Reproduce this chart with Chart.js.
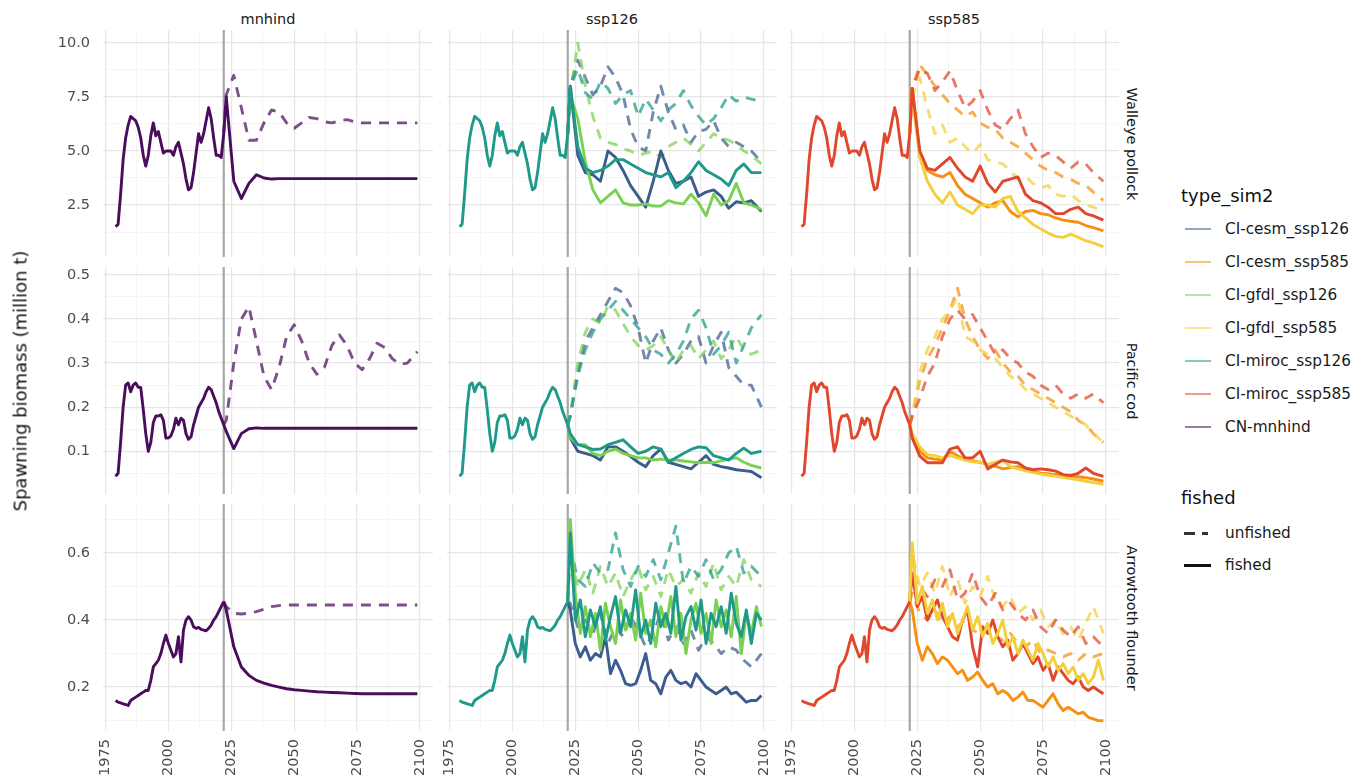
<!DOCTYPE html>
<html>
<head>
<meta charset="utf-8">
<script src="https://cdn.jsdelivr.net/npm/chart.js@4.4.1/dist/chart.umd.min.js"></script>
<style>
  body { margin: 0; background: #fff; width: 1358px; height: 781px; overflow: hidden; position: relative; font-family: "DejaVu Sans", sans-serif; }
  canvas { position: absolute; }
  .txt { position: absolute; white-space: nowrap; }
  .strip { font-size: 14.5px; color: #1a1a1a; transform: translate(-50%, -50%); }
  .strip-r { font-size: 14.5px; color: #1a1a1a; transform: translate(-50%, -50%) rotate(90deg); }
  .ytitle { font-size: 18px; color: #111; transform: translate(-50%, -50%) rotate(-90deg); }
  .lg-title { font-size: 18px; color: #111; transform: translateY(-50%); }
  .lg-text { font-size: 15.3px; color: #1a1a1a; transform: translateY(-50%); }
  .key { position: absolute; }
</style>
</head>
<body>
<script>
// years
const histYears = [1979, 1980, 1981, 1982, 1983, 1984, 1985, 1986, 1987, 1988,
  1989, 1990, 1991, 1992, 1993, 1994, 1995, 1996, 1997, 1998,
  1999, 2000, 2001, 2002, 2003, 2004, 2005, 2006, 2007, 2008,
  2009, 2010, 2011, 2012, 2013, 2014, 2015, 2016, 2017, 2018,
  2019, 2020, 2021, 2022];
const projYears = [2022, 2023, 2026, 2029, 2032, 2035, 2038, 2041, 2044,
  2047, 2050, 2053, 2056, 2059, 2062, 2065, 2068, 2071,
  2074, 2077, 2080, 2083, 2086, 2089, 2092, 2095, 2099];
const arrowYears = [2022, 2023, 2025, 2027, 2029, 2031, 2033, 2035, 2037, 2039,
  2041, 2043, 2045, 2047, 2049, 2051, 2053, 2055, 2057, 2059,
  2061, 2063, 2065, 2067, 2069, 2071, 2073, 2075, 2077, 2079,
  2081, 2083, 2085, 2087, 2089, 2091, 2093, 2095, 2097, 2099];

// hindcast (shared by all scenarios)
const pollockHist = [1.5, 1.6, 3.0, 4.6, 5.6, 6.2, 6.6, 6.5, 6.4, 6.1,
  5.6, 4.8, 4.3, 4.8, 5.7, 6.3, 5.7, 5.9, 5.4, 4.9,
  5.0, 5.0, 5.0, 4.8, 5.2, 5.4, 4.9, 4.4, 3.7, 3.2,
  3.3, 4.0, 4.9, 5.8, 5.4, 5.8, 6.4, 7.0, 6.5, 5.6,
  4.8, 4.8, 4.7, 5.8];
const codHist = [0.043, 0.05, 0.12, 0.2, 0.25, 0.255, 0.235, 0.25, 0.255, 0.245,
  0.245, 0.195, 0.14, 0.1, 0.12, 0.165, 0.18, 0.18, 0.183, 0.17,
  0.13, 0.13, 0.135, 0.15, 0.175, 0.16, 0.175, 0.17, 0.14, 0.127,
  0.133, 0.16, 0.18, 0.2, 0.21, 0.22, 0.235, 0.245, 0.24, 0.225,
  0.21, 0.19, 0.175, 0.16];
const arrowHist = [0.16, 0.155, 0.153, 0.15, 0.148, 0.145, 0.16, 0.165, 0.17, 0.175,
  0.18, 0.185, 0.19, 0.19, 0.22, 0.26, 0.27, 0.28, 0.3, 0.33,
  0.355, 0.33, 0.31, 0.29, 0.3, 0.35, 0.275, 0.37, 0.4, 0.41,
  0.4, 0.38, 0.375, 0.378, 0.372, 0.37, 0.368, 0.375, 0.385, 0.4,
  0.41, 0.425, 0.44, 0.455];

// walleye pollock projections (projYears)
const pollMnF = [5.8, 7.5, 3.6, 2.8, 3.5, 3.9, 3.75, 3.7, 3.72,
  3.72, 3.72, 3.72, 3.72, 3.72, 3.72, 3.72, 3.72, 3.72,
  3.72, 3.72, 3.72, 3.72, 3.72, 3.72, 3.72, 3.72, 3.72];
const pollMnU = [5.8, 7.6, 8.5, 7.0, 5.5, 5.5, 6.3, 6.9, 6.8,
  6.3, 6.05, 6.3, 6.55, 6.5, 6.35, 6.3, 6.4, 6.45,
  6.35, 6.3, 6.3, 6.3, 6.3, 6.3, 6.3, 6.3, 6.3];
const pollCesm126F = [5.8, 8.0, 4.8, 4.0, 3.9, 3.6, 5.0, 4.7, 4.1,
  3.4, 2.9, 2.4, 3.6, 5.0, 4.1, 3.5, 3.6, 3.8,
  2.9, 3.1, 3.2, 2.9, 2.35, 2.65, 2.6, 2.7, 2.2];
const pollGfdl126F = [5.8, 7.6, 6.5, 4.5, 3.2, 2.6, 2.9, 3.2, 2.6,
  2.5, 2.5, 2.55, 2.45, 2.45, 2.7, 2.6, 2.55, 3.0,
  2.6, 2.0, 3.0, 2.5, 2.7, 3.5, 2.6, 2.5, 2.3];
const pollMiroc126F = [5.8, 8.0, 5.2, 4.2, 4.0, 4.1, 4.3, 4.6, 4.6,
  4.4, 4.2, 4.0, 3.9, 3.8, 4.0, 3.3, 3.6, 4.0,
  4.5, 4.1, 3.9, 3.7, 3.4, 4.1, 4.4, 4.0, 4.0];
const pollCesm126U = [5.8, 8.0, 9.2, 8.4, 7.6, 8.0, 8.9, 8.4, 7.6,
  6.0, 5.2, 5.0, 6.8, 8.0, 6.8, 6.0, 6.2, 5.4,
  5.9, 6.0, 6.4, 5.6, 5.2, 5.4, 5.2, 5.0, 4.5];
const pollGfdl126U = [5.8, 7.6, 10.0, 8.0, 6.6, 5.6, 5.4, 5.3, 5.1,
  5.0, 4.8, 4.9, 5.0, 4.7, 5.2, 5.4, 5.6, 5.3,
  5.0, 5.4, 5.8, 5.6, 5.5, 5.3, 5.0, 4.8, 4.4];
const pollMiroc126U = [5.8, 8.0, 8.8, 7.7, 7.4, 8.2, 7.9, 7.2, 7.6,
  7.8, 6.6, 7.4, 6.9, 6.4, 6.9, 7.2, 7.8, 7.1,
  6.6, 6.2, 6.5, 7.0, 7.6, 7.3, 7.5, 7.4, 7.3];
const pollCesm585F = [5.8, 7.9, 4.8, 4.1, 3.9, 3.8, 4.0, 3.4, 3.0,
  2.8, 2.6, 2.4, 2.6, 2.7, 2.2, 1.95, 2.2, 2.25,
  2.1, 2.05, 1.9, 1.8, 1.75, 1.7, 1.55, 1.45, 1.3];
const pollGfdl585F = [5.8, 7.5, 4.7, 3.6, 3.0, 2.6, 3.1, 2.5, 2.3,
  2.1, 2.5, 2.5, 2.4, 2.8, 2.9, 2.2, 1.9, 1.6,
  1.4, 1.2, 1.05, 1.0, 1.15, 1.0, 0.85, 0.75, 0.56];
const pollMiroc585F = [5.8, 7.9, 5.0, 4.2, 4.1, 4.4, 4.7, 4.2, 3.8,
  3.6, 4.3, 3.5, 3.1, 3.6, 3.7, 3.8, 3.0, 2.7,
  2.6, 2.4, 2.1, 2.1, 2.3, 2.4, 2.1, 2.0, 1.8];
const pollCesm585U = [5.8, 7.9, 9.0, 8.5, 8.0, 7.6, 7.2, 6.9, 6.6,
  6.8, 6.3, 6.1, 6.0, 5.6, 5.4, 5.2, 4.9, 4.6,
  4.3, 4.1, 4.0, 3.8, 3.7, 3.5, 3.4, 3.1, 2.7];
const pollGfdl585U = [5.8, 7.5, 8.4, 7.0, 5.8, 6.2, 5.4, 5.6, 5.2,
  4.9, 5.3, 4.6, 4.5, 4.4, 4.1, 3.7, 3.8, 3.5,
  3.3, 3.4, 3.0, 2.9, 3.0, 2.7, 2.5, 2.4, 2.2];
const pollMiroc585U = [5.8, 7.9, 8.8, 8.6, 7.8, 8.2, 8.7, 7.8, 7.0,
  7.3, 7.8, 6.9, 6.2, 6.0, 6.5, 6.9, 5.8, 5.2,
  4.7, 4.9, 4.8, 4.5, 4.2, 4.5, 4.4, 4.0, 3.6];

// pacific cod projections (projYears)
const codMnF = [0.16, 0.145, 0.106, 0.14, 0.151, 0.153, 0.152, 0.152, 0.152,
  0.152, 0.152, 0.152, 0.152, 0.152, 0.152, 0.152, 0.152, 0.152,
  0.152, 0.152, 0.152, 0.152, 0.152, 0.152, 0.152, 0.152, 0.152];
const codMnU = [0.16, 0.17, 0.3, 0.4, 0.428, 0.35, 0.27, 0.24, 0.29,
  0.36, 0.387, 0.35, 0.3, 0.275, 0.29, 0.34, 0.364, 0.34,
  0.3, 0.285, 0.31, 0.345, 0.335, 0.31, 0.297, 0.3, 0.326];
const codCesm126F = [0.16, 0.13, 0.1, 0.095, 0.09, 0.08, 0.11, 0.11, 0.1,
  0.088, 0.075, 0.065, 0.09, 0.105, 0.075, 0.07, 0.065, 0.06,
  0.075, 0.09, 0.07, 0.065, 0.062, 0.058, 0.056, 0.054, 0.04];
const codGfdl126F = [0.16, 0.13, 0.115, 0.115, 0.095, 0.09, 0.1, 0.105, 0.095,
  0.09, 0.085, 0.085, 0.08, 0.082, 0.08, 0.08, 0.078, 0.076,
  0.074, 0.075, 0.074, 0.078, 0.082, 0.085, 0.075, 0.068, 0.062];
const codMiroc126F = [0.16, 0.14, 0.115, 0.11, 0.104, 0.105, 0.115, 0.12, 0.126,
  0.11, 0.095, 0.1, 0.11, 0.105, 0.075, 0.085, 0.095, 0.104,
  0.11, 0.108, 0.09, 0.085, 0.08, 0.095, 0.107, 0.095, 0.1];
const codCesm126U = [0.16, 0.18, 0.28, 0.35, 0.38, 0.41, 0.44, 0.47, 0.46,
  0.43, 0.38, 0.3, 0.35, 0.38, 0.33, 0.3, 0.32, 0.35,
  0.36, 0.3, 0.34, 0.37, 0.29, 0.27, 0.25, 0.25, 0.2];
const codGfdl126U = [0.16, 0.18, 0.3, 0.37, 0.4, 0.39, 0.43, 0.42, 0.39,
  0.36, 0.34, 0.33, 0.34, 0.36, 0.33, 0.3, 0.33, 0.34,
  0.31, 0.33, 0.35, 0.31, 0.33, 0.36, 0.33, 0.32, 0.33];
const codMiroc126U = [0.16, 0.18, 0.27, 0.33, 0.37, 0.4, 0.42, 0.44, 0.42,
  0.4, 0.38, 0.36, 0.33, 0.32, 0.3, 0.32, 0.35, 0.4,
  0.42, 0.38, 0.32, 0.34, 0.37, 0.3, 0.34, 0.38, 0.41];
const codCesm585F = [0.16, 0.13, 0.1, 0.085, 0.082, 0.08, 0.1, 0.09, 0.08,
  0.078, 0.075, 0.07, 0.066, 0.06, 0.063, 0.065, 0.056, 0.054,
  0.05, 0.049, 0.047, 0.045, 0.043, 0.042, 0.04, 0.037, 0.032];
const codGfdl585F = [0.16, 0.14, 0.11, 0.092, 0.09, 0.085, 0.09, 0.085, 0.08,
  0.076, 0.075, 0.07, 0.075, 0.08, 0.065, 0.06, 0.056, 0.052,
  0.048, 0.046, 0.043, 0.041, 0.038, 0.035, 0.032, 0.029, 0.025];
const codMiroc585F = [0.16, 0.13, 0.089, 0.074, 0.074, 0.074, 0.105, 0.11, 0.085,
  0.085, 0.1, 0.06, 0.07, 0.08, 0.076, 0.074, 0.062, 0.058,
  0.06, 0.058, 0.055, 0.047, 0.045, 0.05, 0.062, 0.05, 0.043];
const codCesm585U = [0.16, 0.18, 0.26, 0.31, 0.34, 0.38, 0.42, 0.47, 0.4,
  0.36, 0.33, 0.31, 0.33, 0.3, 0.28, 0.27, 0.25, 0.24,
  0.23, 0.22, 0.21, 0.2, 0.19, 0.17, 0.16, 0.14, 0.12];
const codGfdl585U = [0.16, 0.18, 0.28, 0.33, 0.36, 0.4, 0.42, 0.45, 0.36,
  0.35, 0.33, 0.32, 0.31, 0.29, 0.27, 0.26, 0.24, 0.23,
  0.22, 0.21, 0.2, 0.19, 0.18, 0.17, 0.16, 0.14, 0.12];
const codMiroc585U = [0.16, 0.18, 0.22, 0.27, 0.3, 0.36, 0.4, 0.42, 0.4,
  0.41, 0.38, 0.35, 0.32, 0.33, 0.31, 0.3, 0.28, 0.27,
  0.25, 0.24, 0.25, 0.23, 0.22, 0.23, 0.22, 0.23, 0.21];

// arrowtooth flounder projections
const arrowMnF = [0.455, 0.43, 0.32, 0.26, 0.235, 0.22, 0.212, 0.205, 0.2,
  0.195, 0.192, 0.19, 0.188, 0.186, 0.185, 0.184, 0.183, 0.182,
  0.181, 0.18, 0.18, 0.18, 0.18, 0.18, 0.18, 0.18, 0.18];
const arrowMnU = [0.455, 0.44, 0.42, 0.418, 0.42, 0.425, 0.432, 0.44, 0.443,
  0.445, 0.445, 0.445, 0.445, 0.445, 0.445, 0.445, 0.445, 0.445,
  0.445, 0.445, 0.445, 0.445, 0.445, 0.445, 0.445, 0.445, 0.445];
const arrowCesm126U = [0.455, 0.45, 0.38, 0.4, 0.36, 0.42, 0.33, 0.38, 0.35,
  0.41, 0.37, 0.32, 0.36, 0.42, 0.34, 0.38, 0.33, 0.37,
  0.31, 0.35, 0.33, 0.3, 0.32, 0.31, 0.28, 0.26, 0.3];
const arrowGfdl126U = [0.455, 0.6, 0.5, 0.55, 0.48, 0.56, 0.5, 0.54, 0.47,
  0.52, 0.56, 0.49, 0.53, 0.47, 0.55, 0.5, 0.52, 0.48,
  0.54, 0.5, 0.57, 0.49, 0.53, 0.5, 0.58, 0.52, 0.5];
const arrowMiroc126U = [0.455, 0.62, 0.52, 0.5, 0.57, 0.54, 0.55, 0.66, 0.55,
  0.5, 0.56, 0.53, 0.58, 0.52, 0.6, 0.68, 0.51, 0.56,
  0.53, 0.58, 0.52, 0.55, 0.6, 0.62, 0.54, 0.56, 0.53];
const arrowCesm585U = [0.455, 0.48, 0.42, 0.4, 0.43, 0.39, 0.41, 0.38, 0.4,
  0.37, 0.36, 0.38, 0.35, 0.34, 0.36, 0.33, 0.32, 0.34,
  0.3, 0.31, 0.3, 0.29, 0.3, 0.28, 0.3, 0.29, 0.3];
const arrowGfdl585U = [0.455, 0.6, 0.5, 0.54, 0.48, 0.56, 0.47, 0.52, 0.45,
  0.5, 0.47, 0.53, 0.46, 0.44, 0.47, 0.42, 0.44, 0.4,
  0.43, 0.38, 0.4, 0.36, 0.38, 0.34, 0.39, 0.44, 0.36];
const arrowMiroc585U = [0.455, 0.52, 0.5, 0.47, 0.52, 0.5, 0.55, 0.46, 0.48,
  0.54, 0.47, 0.44, 0.48, 0.43, 0.45, 0.42, 0.4, 0.43,
  0.38, 0.36, 0.4, 0.37, 0.35, 0.38, 0.33, 0.35, 0.32];
// fished, arrowYears
const arrowCesm126F = [0.455, 0.43, 0.33, 0.29, 0.32, 0.28, 0.3, 0.29, 0.35, 0.24,
  0.28, 0.25, 0.21, 0.205, 0.21, 0.25, 0.3, 0.22, 0.21, 0.18,
  0.23, 0.25, 0.22, 0.21, 0.215, 0.2, 0.24, 0.22, 0.2, 0.19,
  0.18, 0.19, 0.2, 0.18, 0.185, 0.17, 0.155, 0.16, 0.16, 0.175];
const arrowGfdl126F = [0.455, 0.7, 0.48, 0.36, 0.44, 0.35, 0.42, 0.31, 0.45, 0.38,
  0.33, 0.46, 0.37, 0.42, 0.34, 0.48, 0.36, 0.4, 0.32, 0.44,
  0.38, 0.47, 0.35, 0.42, 0.3, 0.4, 0.45, 0.36, 0.42, 0.33,
  0.46, 0.38, 0.43, 0.35, 0.47, 0.3, 0.42, 0.36, 0.44, 0.38];
const arrowMiroc126F = [0.455, 0.66, 0.4, 0.46, 0.35, 0.43, 0.38, 0.44, 0.34, 0.41,
  0.47, 0.36, 0.43, 0.38, 0.49, 0.35, 0.4, 0.33, 0.45, 0.38,
  0.42, 0.36, 0.5, 0.34, 0.41, 0.44, 0.37, 0.46, 0.33, 0.42,
  0.38, 0.44, 0.36, 0.48, 0.39, 0.35, 0.43, 0.33, 0.42, 0.4];
const arrowCesm585F = [0.455, 0.43, 0.33, 0.28, 0.32, 0.3, 0.27, 0.29, 0.28, 0.26,
  0.24, 0.25, 0.22, 0.23, 0.245, 0.22, 0.2, 0.21, 0.18, 0.19,
  0.18, 0.16, 0.17, 0.185, 0.16, 0.16, 0.15, 0.14, 0.16, 0.18,
  0.15, 0.13, 0.14, 0.13, 0.12, 0.125, 0.11, 0.105, 0.1, 0.1];
const arrowGfdl585F = [0.455, 0.63, 0.45, 0.5, 0.42, 0.46, 0.4, 0.45, 0.38, 0.42,
  0.36, 0.4, 0.44, 0.37, 0.41, 0.35, 0.39, 0.33, 0.36, 0.4,
  0.32, 0.35, 0.3, 0.34, 0.31, 0.28, 0.33, 0.3, 0.26, 0.29,
  0.25, 0.27, 0.24, 0.26, 0.22, 0.24, 0.21, 0.23, 0.28, 0.22];
const arrowMiroc585F = [0.455, 0.54, 0.44, 0.47, 0.4, 0.43, 0.46, 0.41, 0.38, 0.35,
  0.34, 0.4, 0.43, 0.32, 0.26, 0.38, 0.36, 0.4, 0.35, 0.32,
  0.34, 0.28, 0.3, 0.33, 0.3, 0.27, 0.29, 0.25, 0.27, 0.22,
  0.26, 0.24, 0.22, 0.21, 0.23, 0.2, 0.19, 0.2, 0.19, 0.18];

// labels and ticks
const scenarios = ["mnhind", "ssp126", "ssp585"];
const species = ["Walleye pollock", "Pacific cod", "Arrowtooth flounder"];
const xMajor = [1975, 2000, 2025, 2050, 2075, 2100];
const xMinor = [1987.5, 2012.5, 2037.5, 2062.5, 2087.5];
const pollockTicks = [2.5, 5, 7.5, 10];
const pollockMinor = [1.25, 3.75, 6.25, 8.75];
const codTicks = [0.1, 0.2, 0.3, 0.4, 0.5];
const codMinor = [0.05, 0.15, 0.25, 0.35, 0.45];
const arrowTicks = [0.2, 0.4, 0.6];
const arrowMinor = [0.1, 0.3, 0.5, 0.7];
const legendNames = ["CI-cesm_ssp126", "CI-cesm_ssp585", "CI-gfdl_ssp126", "CI-gfdl_ssp585",
  "CI-miroc_ssp126", "CI-miroc_ssp585", "CN-mnhind"];
const legendColors = ["#3b5c8c", "#f68f12", "#7ad151", "#f3cf3c", "#1f9a8a", "#e0472d", "#4a0c5c"];
const projStart = 2022;

// layout
const colLefts = [103, 447, 789];
const rowTops = [30, 267, 504];
const panelW = 330;
const panelH = 227;
const xMin = 1974;
const xMax = 2105.2;
const yRanges = [[0.093, 10.6], [0.003, 0.518], [0.069, 0.746]];

const [cesm126, cesm585, gfdl126, gfdl585, miroc126, miroc585, mnhind] = legendColors;

function fade(hex, a) {
  const n = parseInt(hex.slice(1), 16);
  return `rgba(${(n >> 16) & 255}, ${(n >> 8) & 255}, ${n & 255}, ${a})`;
}

function line(xs, ys, color, dashed) {
  return {
    data: xs.map((x, i) => ({ x: x, y: ys[i] })),
    borderColor: dashed ? fade(color, 0.72) : color,
    borderWidth: 2.9,
    borderDash: dashed ? [10, 8] : [],
    borderJoinStyle: "round",
    pointRadius: 0,
    fill: false,
    tension: 0,
  };
}

// first dataset is drawn on top
const panelSeries = [
  [
    [line(histYears, pollockHist, mnhind), line(projYears, pollMnF, mnhind), line(projYears, pollMnU, mnhind, true)],
    [line(histYears, pollockHist, miroc126), line(projYears, pollMiroc126F, miroc126), line(projYears, pollGfdl126F, gfdl126),
      line(projYears, pollCesm126F, cesm126), line(projYears, pollMiroc126U, miroc126, true),
      line(projYears, pollGfdl126U, gfdl126, true), line(projYears, pollCesm126U, cesm126, true)],
    [line(histYears, pollockHist, miroc585), line(projYears, pollMiroc585F, miroc585), line(projYears, pollGfdl585F, gfdl585),
      line(projYears, pollCesm585F, cesm585), line(projYears, pollMiroc585U, miroc585, true),
      line(projYears, pollGfdl585U, gfdl585, true), line(projYears, pollCesm585U, cesm585, true)],
  ],
  [
    [line(histYears, codHist, mnhind), line(projYears, codMnF, mnhind), line(projYears, codMnU, mnhind, true)],
    [line(histYears, codHist, miroc126), line(projYears, codMiroc126F, miroc126), line(projYears, codGfdl126F, gfdl126),
      line(projYears, codCesm126F, cesm126), line(projYears, codMiroc126U, miroc126, true),
      line(projYears, codGfdl126U, gfdl126, true), line(projYears, codCesm126U, cesm126, true)],
    [line(histYears, codHist, miroc585), line(projYears, codMiroc585F, miroc585), line(projYears, codGfdl585F, gfdl585),
      line(projYears, codCesm585F, cesm585), line(projYears, codMiroc585U, miroc585, true),
      line(projYears, codGfdl585U, gfdl585, true), line(projYears, codCesm585U, cesm585, true)],
  ],
  [
    [line(histYears, arrowHist, mnhind), line(projYears, arrowMnF, mnhind), line(projYears, arrowMnU, mnhind, true)],
    [line(histYears, arrowHist, miroc126), line(arrowYears, arrowMiroc126F, miroc126), line(arrowYears, arrowGfdl126F, gfdl126),
      line(arrowYears, arrowCesm126F, cesm126), line(projYears, arrowMiroc126U, miroc126, true),
      line(projYears, arrowGfdl126U, gfdl126, true), line(projYears, arrowCesm126U, cesm126, true)],
    [line(histYears, arrowHist, miroc585), line(arrowYears, arrowGfdl585F, gfdl585), line(arrowYears, arrowMiroc585F, miroc585),
      line(arrowYears, arrowCesm585F, cesm585), line(projYears, arrowMiroc585U, miroc585, true),
      line(projYears, arrowGfdl585U, gfdl585, true), line(projYears, arrowCesm585U, cesm585, true)],
  ],
];
const yTicks = [pollockTicks, codTicks, arrowTicks];
const yMinorTicks = [pollockMinor, codMinor, arrowMinor];

Chart.defaults.font.family = "'DejaVu Sans', sans-serif";

const vlinePlugin = {
  id: "vline",
  beforeDatasetsDraw(chart) {
    const { ctx, chartArea, scales } = chart;
    const px = scales.x.getPixelForValue(projStart);
    ctx.save();
    ctx.strokeStyle = "#a8a8a8";
    ctx.lineWidth = 2.2;
    ctx.beginPath();
    ctx.moveTo(px, chartArea.top);
    ctx.lineTo(px, chartArea.bottom);
    ctx.stroke();
    ctx.restore();
  },
};

function addText(cls, text, left, top) {
  const el = document.createElement("div");
  el.className = "txt " + cls;
  el.textContent = text;
  el.style.left = left + "px";
  el.style.top = top + "px";
  document.body.appendChild(el);
  return el;
}

for (let r = 0; r < 3; r++) {
  for (let c = 0; c < 3; c++) {
    // extra room on the left so the first rotated year label is not cut
    const leftAxis = c === 0 ? 73 : 12;
    const bottomAxis = r === 2 ? 50 : 0;
    const canvas = document.createElement("canvas");
    canvas.width = panelW + leftAxis;
    canvas.height = panelH + bottomAxis;
    canvas.style.left = colLefts[c] - leftAxis + "px";
    canvas.style.top = rowTops[r] + "px";
    document.body.appendChild(canvas);

    const majY = yTicks[r];
    const allY = majY.concat(yMinorTicks[r]);
    const allX = xMajor.concat(xMinor);

    new Chart(canvas, {
      type: "line",
      data: { datasets: panelSeries[r][c] },
      options: {
        responsive: false,
        animation: false,
        layout: { padding: 0, autoPadding: false },
        plugins: { legend: { display: false }, tooltip: { enabled: false } },
        scales: {
          x: {
            type: "linear",
            min: xMin,
            max: xMax,
            afterBuildTicks: (axis) => { axis.ticks = allX.map((v) => ({ value: v })); },
            afterFit: (axis) => {
              axis.height = bottomAxis;
              axis.paddingLeft = 0;
              axis.paddingRight = 0;
            },
            border: { display: false },
            grid: {
              drawTicks: false,
              color: (ctx) => (xMajor.includes(ctx.tick.value) ? "#e6e6e6" : "#f2f2f2"),
              lineWidth: (ctx) => (xMajor.includes(ctx.tick.value) ? 1.2 : 0.8),
            },
            ticks: {
              display: r === 2,
              autoSkip: false,
              minRotation: 90,
              maxRotation: 90,
              padding: 8,
              color: "#4d4d4d",
              font: { size: 14.5 },
              callback: (v) => (xMajor.includes(v) ? String(v) : ""),
            },
          },
          y: {
            type: "linear",
            min: yRanges[r][0],
            max: yRanges[r][1],
            afterBuildTicks: (axis) => { axis.ticks = allY.map((v) => ({ value: v })); },
            afterFit: (axis) => {
              axis.width = leftAxis;
              axis.paddingTop = 0;
              axis.paddingBottom = 0;
            },
            border: { display: false },
            grid: {
              drawTicks: false,
              color: (ctx) => (majY.includes(ctx.tick.value) ? "#e6e6e6" : "#f2f2f2"),
              lineWidth: (ctx) => (majY.includes(ctx.tick.value) ? 1.2 : 0.8),
            },
            ticks: {
              display: c === 0,
              padding: 13,
              color: "#4d4d4d",
              font: { size: 14.5 },
              callback: (v) => (majY.includes(v) ? (r === 0 ? v.toFixed(1) : String(v)) : ""),
            },
          },
        },
      },
      plugins: [vlinePlugin],
    });
  }
}

// strips
scenarios.forEach((s, c) => addText("strip", s, colLefts[c] + panelW / 2, 19));
species.forEach((s, r) => addText("strip-r", s, 1132, rowTops[r] + panelH / 2));
addText("ytitle", "Spawning biomass (million t)", 20, 381);

// legend
addText("lg-title", "type_sim2", 1181, 195);
legendNames.forEach((name, i) => {
  const y = 229 + i * 33;
  const key = document.createElement("div");
  key.className = "key";
  key.style.cssText = `left:1185px; top:${y - 1}px; width:26px; height:2px; background:${fade(legendColors[i], 0.55)};`;
  document.body.appendChild(key);
  addText("lg-text", name, 1225, y);
});
addText("lg-title", "fished", 1181, 497);
addText("lg-text", "unfished", 1225, 533);
addText("lg-text", "fished", 1225, 565);
const dash1 = document.createElement("div");
dash1.className = "key";
dash1.style.cssText = "left:1184px; top:531.5px; width:11px; height:3px; background:#333;";
document.body.appendChild(dash1);
const dash2 = document.createElement("div");
dash2.className = "key";
dash2.style.cssText = "left:1202px; top:531.5px; width:6px; height:3px; background:#333;";
document.body.appendChild(dash2);
const solid = document.createElement("div");
solid.className = "key";
solid.style.cssText = "left:1184px; top:563.5px; width:27px; height:3px; background:#111;";
document.body.appendChild(solid);
</script>
</body>
</html>
